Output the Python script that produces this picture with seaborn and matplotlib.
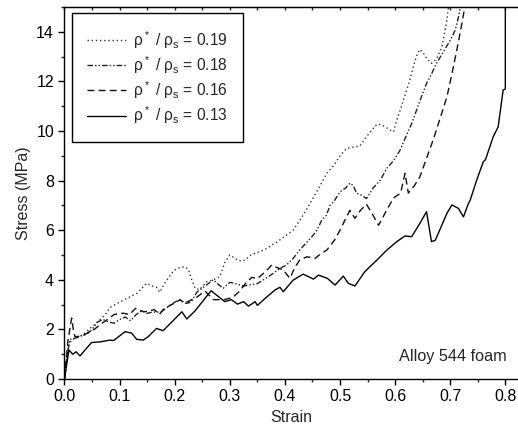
import numpy as np
import pandas as pd
import matplotlib
matplotlib.use('Agg')
import matplotlib.pyplot as plt
from matplotlib.ticker import MultipleLocator, FormatStrFormatter
import seaborn as sns

# Dữ liệu (strain, stress MPa)
strain_19 = [0, 0.004, 0.007, 0.013, 0.02, 0.028, 0.037, 0.046, 0.055, 0.064, 0.074, 0.083, 0.092, 0.1,
             0.113, 0.122, 0.131, 0.14, 0.149, 0.158, 0.167, 0.173, 0.18, 0.188, 0.196, 0.204, 0.212, 0.219,
             0.225, 0.231, 0.237, 0.245, 0.258, 0.27, 0.282, 0.291, 0.3, 0.307, 0.314, 0.321, 0.328, 0.338,
             0.349, 0.362, 0.376, 0.387, 0.397, 0.406, 0.415, 0.427, 0.437, 0.446, 0.455, 0.464, 0.476, 0.488,
             0.5, 0.512, 0.524, 0.536, 0.548, 0.558, 0.567, 0.575, 0.582, 0.59, 0.597, 0.603, 0.61, 0.618,
             0.626, 0.633, 0.64, 0.645, 0.651, 0.657, 0.666, 0.675, 0.685, 0.69, 0.694, 0.698, 0.702]
stress_19 = [0, 0.8, 1.3, 1.58, 1.65, 1.7, 1.85, 2.04, 2.2, 2.38, 2.6, 2.89, 3.0, 3.1,
             3.25, 3.35, 3.45, 3.65, 3.86, 3.75, 3.7, 3.5, 3.8, 4.06, 4.3, 4.46, 4.5, 4.53,
             4.4, 4.0, 3.66, 3.6, 3.92, 4.0, 4.13, 4.7, 5.0, 4.9, 4.8, 4.75, 4.8, 5.0,
             5.1, 5.2, 5.4, 5.55, 5.71, 5.85, 6.0, 6.4, 6.75, 7.1, 7.45, 7.8, 8.3, 8.6,
             9.0, 9.3, 9.35, 9.4, 9.77, 10.05, 10.28, 10.25, 10.17, 10.05, 9.97, 10.44, 10.9, 11.45,
             12.0, 12.6, 13.1, 13.29, 13.15, 12.95, 12.73, 12.9, 13.4, 14.0, 14.48, 15.2, 16.0]

strain_18 = [0, 0.005, 0.01, 0.02, 0.03, 0.04, 0.05, 0.06, 0.07, 0.08, 0.09, 0.1, 0.11, 0.12, 0.13,
             0.14, 0.15, 0.16, 0.175, 0.19, 0.2, 0.21, 0.22, 0.23, 0.24, 0.255, 0.27, 0.28, 0.288, 0.3,
             0.31, 0.325, 0.337, 0.35, 0.361, 0.375, 0.391, 0.403, 0.415, 0.427, 0.437, 0.449, 0.458,
             0.467, 0.475, 0.482, 0.49, 0.5, 0.51, 0.518, 0.524, 0.53, 0.54, 0.548, 0.56, 0.573, 0.585,
             0.597, 0.609, 0.62, 0.63, 0.639, 0.648, 0.657, 0.666, 0.675, 0.685, 0.693, 0.701, 0.709,
             0.715, 0.72, 0.725]
stress_18 = [0, 1.0, 1.6, 1.65, 1.75, 1.8, 2.0, 2.3, 2.4, 2.3, 2.25, 2.4, 2.5, 2.35, 2.6,
             2.75, 2.65, 2.7, 2.7, 2.95, 3.1, 3.2, 3.05, 3.1, 3.5, 3.75, 4.0, 3.8, 3.66, 3.9,
             3.85, 3.75, 3.8, 3.85, 4.0, 4.2, 4.46, 4.6, 4.87, 5.2, 5.45, 5.74, 6.0,
             6.41, 6.6, 7.0, 7.2, 7.55, 7.7, 7.9, 7.8, 7.5, 7.4, 7.28, 7.7, 8.02, 8.5,
             8.8, 9.23, 9.8, 10.3, 10.85, 11.4, 11.92, 12.3, 12.73, 13.1, 13.4, 13.7, 14.07,
             14.6, 15.2, 16.0]

strain_16 = [0, 0.006, 0.011, 0.013, 0.016, 0.019, 0.027, 0.035, 0.045, 0.054, 0.065, 0.078, 0.09, 0.1,
             0.108, 0.118, 0.129, 0.144, 0.155, 0.163, 0.172, 0.181, 0.19, 0.199, 0.21, 0.217, 0.229,
             0.24, 0.255, 0.27, 0.29, 0.306, 0.318, 0.33, 0.34, 0.35, 0.361, 0.37, 0.376, 0.385, 0.397,
             0.409, 0.418, 0.427, 0.44, 0.455, 0.465, 0.476, 0.49, 0.5, 0.512, 0.518, 0.527, 0.537, 0.548,
             0.56, 0.57, 0.582, 0.597, 0.61, 0.618, 0.624, 0.635, 0.645, 0.657, 0.669, 0.68, 0.694, 0.703,
             0.712, 0.72, 0.728, 0.733]
stress_16 = [0, 1.5, 2.2, 2.46, 2.0, 1.71, 1.72, 1.77, 1.9, 2.0, 2.2, 2.4, 2.6, 2.65,
             2.65, 2.6, 2.85, 2.71, 2.75, 2.8, 2.6, 2.85, 2.95, 3.05, 3.2, 3.05, 3.18,
             3.3, 3.55, 3.2, 3.2, 3.3, 3.55, 3.9, 4.1, 4.05, 4.26, 4.45, 4.6, 4.5, 4.4,
             4.06, 4.5, 4.8, 4.93, 4.87, 5.05, 5.2, 5.6, 6.0, 6.55, 6.8, 6.48, 6.8, 7.05,
             6.6, 6.2, 6.7, 7.3, 7.5, 8.3, 7.5, 7.8, 8.16, 8.9, 9.64, 10.4, 11.38, 12.3,
             13.27, 14.2, 15.2, 16.0]

strain_13 = [0, 0.008, 0.015, 0.021, 0.028, 0.049, 0.065, 0.083, 0.089, 0.11, 0.122, 0.131, 0.143,
             0.152, 0.167, 0.179, 0.213, 0.222, 0.237, 0.266, 0.291, 0.303, 0.314, 0.325, 0.334, 0.346,
             0.35, 0.364, 0.382, 0.391, 0.397, 0.415, 0.433, 0.452, 0.461, 0.477, 0.491, 0.506, 0.515,
             0.527, 0.545, 0.567, 0.585, 0.603, 0.618, 0.63, 0.645, 0.657, 0.666, 0.673, 0.694, 0.703,
             0.715, 0.724, 0.733, 0.736, 0.748, 0.76, 0.764, 0.778, 0.787, 0.796, 0.8, 0.8]
stress_13 = [0, 1.17, 1.0, 1.1, 0.93, 1.47, 1.5, 1.57, 1.55, 1.91, 1.85, 1.6, 1.57,
             1.71, 2.04, 1.95, 2.71, 2.42, 2.75, 3.56, 3.12, 3.2, 3.02, 3.12, 2.94, 3.12,
             2.97, 3.25, 3.59, 3.7, 3.52, 3.99, 4.23, 4.03, 4.19, 4.06, 3.79, 4.15, 3.86,
             3.75, 4.33, 4.8, 5.2, 5.54, 5.77, 5.74, 6.28, 6.75, 5.54, 5.6, 6.68, 7.02,
             6.88, 6.54, 7.08, 7.2, 8.02, 8.76, 8.85, 9.77, 10.17, 11.65, 11.7, 16.0]

labels = [r'$\rho^*$ / $\rho_\mathrm{s}$ = 0.19', r'$\rho^*$ / $\rho_\mathrm{s}$ = 0.18',
          r'$\rho^*$ / $\rho_\mathrm{s}$ = 0.16', r'$\rho^*$ / $\rho_\mathrm{s}$ = 0.13']

sns.set_style('ticks')
plt.rcParams['font.family'] = ['Liberation Sans', 'DejaVu Sans']
plt.rcParams['mathtext.fontset'] = 'custom'
plt.rcParams['mathtext.rm'] = 'Liberation Sans'
plt.rcParams['mathtext.it'] = 'Liberation Sans'
plt.rcParams['mathtext.bf'] = 'Liberation Sans:bold'

fig = plt.figure(figsize=(5.18, 4.36), dpi=100)
ax = fig.add_axes([0.1245, 0.1307, 0.8755, 0.853])

series = [(strain_19, stress_19, (0, (1, 2)), '#333333'),
          (strain_18, stress_18, (0, (4, 1.5, 1, 1.5, 1, 1.5)), '#222222'),
          (strain_16, stress_16, (0, (5, 3)), '#111111'),
          (strain_13, stress_13, '-', 'black')]
for (sx, sy, ls, c), lab in zip(series, labels):
    sns.lineplot(x=sx, y=sy, ax=ax, color=c, lw=1.0, linestyle=ls,
                 sort=False, estimator=None, label=lab)

ax.set_xlim(0, 0.823)
ax.set_ylim(0, 15)
ax.xaxis.set_major_locator(MultipleLocator(0.1))
ax.xaxis.set_minor_locator(MultipleLocator(0.05))
ax.xaxis.set_major_formatter(FormatStrFormatter('%.1f'))
ax.yaxis.set_major_locator(MultipleLocator(2))
ax.yaxis.set_minor_locator(MultipleLocator(1))
ax.tick_params(which='major', direction='out', length=4, width=1, labelsize=11.5, colors='black')
ax.tick_params(which='minor', direction='out', length=2.5, width=1)
for s in ['left', 'bottom', 'top']:
    ax.spines[s].set_linewidth(1.0)
    ax.spines[s].set_color('black')
ax.spines['right'].set_visible(False)

# vạch chia phía trên
top = ax.secondary_xaxis('top')
top.xaxis.set_major_locator(MultipleLocator(0.05))
top.tick_params(direction='in', length=2.5, width=1, labeltop=False)

ax.set_xlabel('Strain', fontsize=11.5)
ax.set_ylabel('Stress (MPa)', fontsize=11.5)

ax.text(0.803, 0.9, 'Alloy 544 foam', ha='right', va='center', fontsize=11.7)

leg = ax.legend(loc='upper left', bbox_to_anchor=(0.016, 0.983), borderaxespad=0,
                fancybox=False, edgecolor='black', framealpha=1, fontsize=11.2,
                handlelength=2.5, handletextpad=0.45, borderpad=1.0, labelspacing=0.22)
leg.get_frame().set_linewidth(1.0)

fig.savefig('out.png', dpi=100)
